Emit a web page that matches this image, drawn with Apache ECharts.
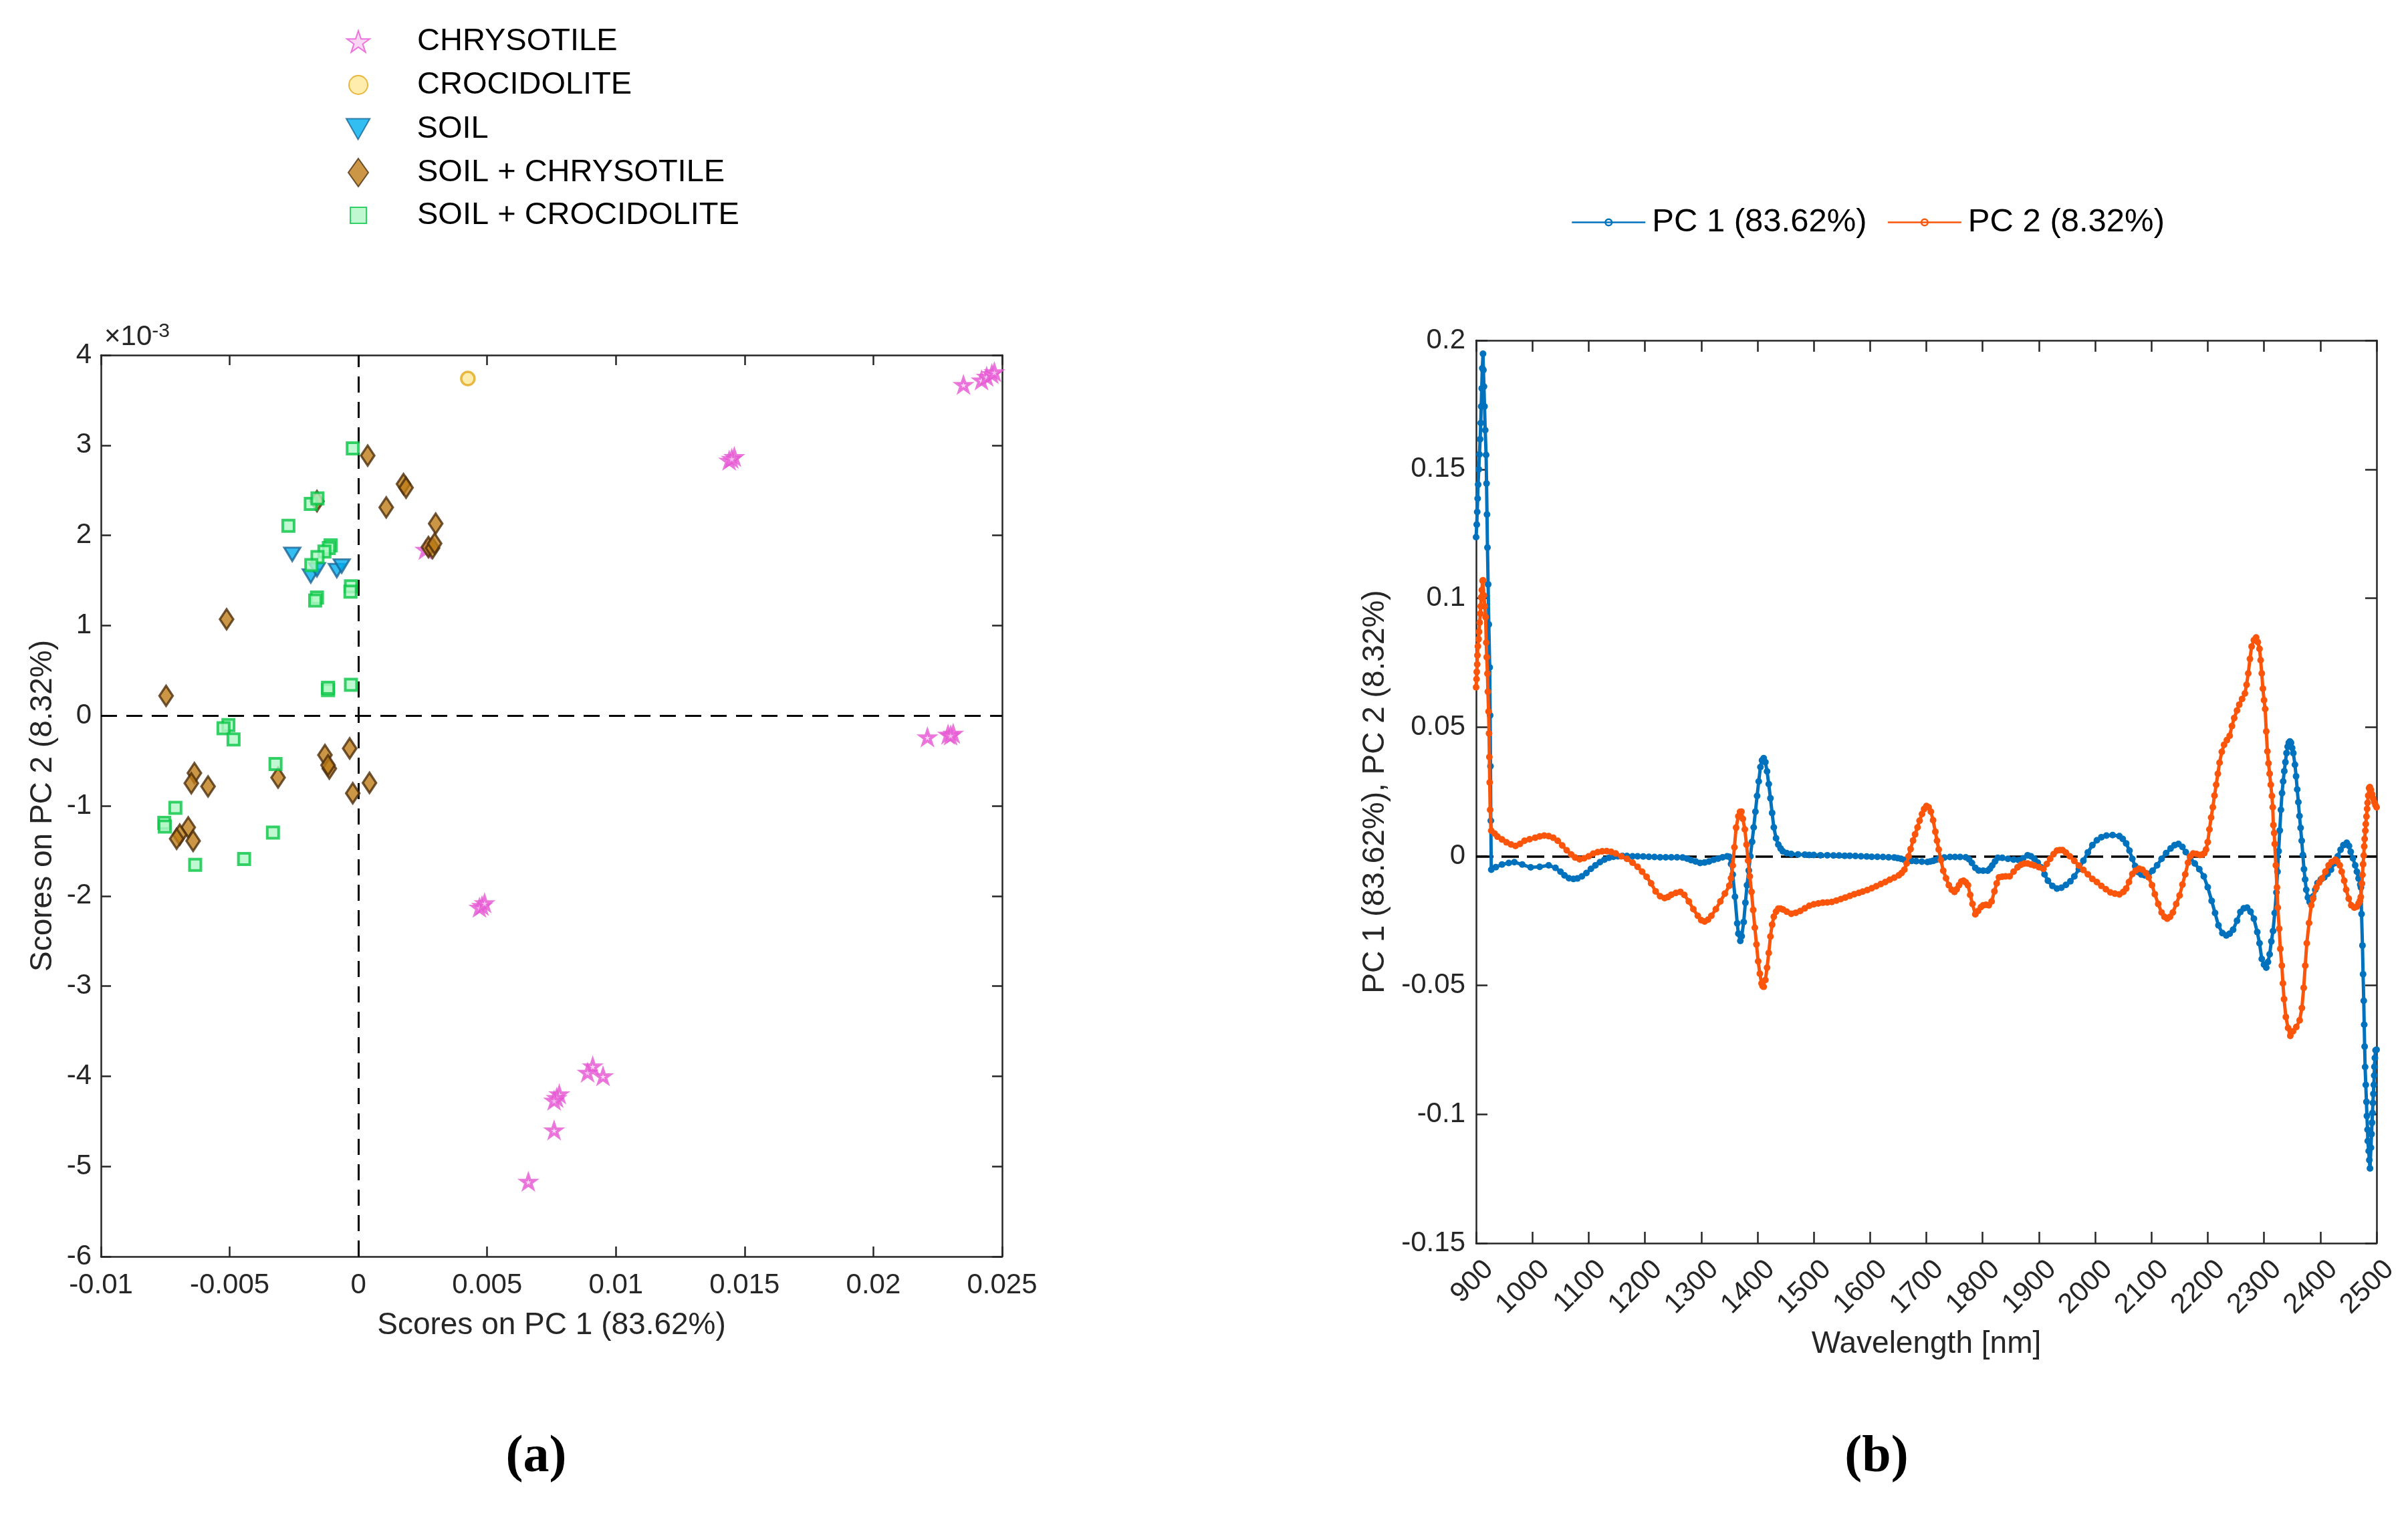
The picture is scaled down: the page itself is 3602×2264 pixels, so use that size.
<!DOCTYPE html>
<html>
<head>
<meta charset="utf-8">
<script src="https://cdn.jsdelivr.net/npm/echarts@6/dist/echarts.min.js"></script>
<style>
html,body{margin:0;padding:0;background:#fff;}
#main{width:3602px;height:2264px;}
</style>
</head>
<body>
<div id="main"></div>
<script>
// ---------- (a) PCA scores (PC1, PC2 in units of 1e-3) ----------
const groupNames = ['CHRYSOTILE', 'CROCIDOLITE', 'SOIL', 'SOIL + CHRYSOTILE', 'SOIL + CROCIDOLITE'];

const chrysotilePC1 = [0.0235, 0.0242, 0.0244, 0.0246, 0.0247, 0.0144, 0.0146, 0.0145, 0.0026, 0.0221, 0.0229, 0.0231, 0.0230, 0.0048, 0.0047, 0.0049, 0.0091, 0.0089, 0.0095, 0.0078, 0.0077, 0.0076, 0.0076, 0.0066];
const chrysotilePC2 = [3.67, 3.72, 3.76, 3.79, 3.81, 2.83, 2.87, 2.85, 1.84, -0.24, -0.21, -0.20, -0.22, -2.11, -2.13, -2.08, -3.89, -3.96, -4.00, -4.20, -4.24, -4.27, -4.60, -5.17];

const crocidolitePC1 = [0.00425];
const crocidolitePC2 = [3.74];

const soilPC1 = [-0.00257, -0.00185, -0.00161, -0.00084, -0.00065];
const soilPC2 = [1.79, 1.55, 1.62, 1.61, 1.66];

const soilChrysPC1 = [0.00036, 0.00175, 0.00185, 0.00108, 0.0030, 0.00272, 0.00288, 0.00296, -0.00161, -0.00512, -0.00747, -0.0013, -0.00113, -0.00118, -0.00034, -0.00022, 0.00043, -0.00637, -0.00649, -0.00584, -0.00312, -0.00661, -0.00694, -0.00706, -0.00642];
const soilChrysPC2 = [2.886, 2.57, 2.53, 2.31, 2.13, 1.87, 1.86, 1.91, 2.38, 1.07, 0.22, -0.437, -0.586, -0.55, -0.363, -0.86, -0.745, -0.636, -0.75, -0.785, -0.686, -1.24, -1.32, -1.366, -1.39];

const soilCrocPC1 = [-0.00022, -0.00185, -0.00159, -0.00272, -0.00108, -0.00115, -0.00132, -0.00159, -0.00183, -0.00029, -0.00031, -0.00161, -0.00168, -0.00118, -0.00118, -0.00029, -0.00505, -0.00524, -0.00485, -0.00322, -0.00711, -0.00754, -0.00752, -0.00332, -0.00444, -0.00634];
const soilCrocPC2 = [2.966, 2.35, 2.41, 2.106, 1.89, 1.86, 1.82, 1.76, 1.67, 1.436, 1.376, 1.31, 1.277, 0.283, 0.31, 0.343, -0.104, -0.139, -0.263, -0.536, -1.023, -1.19, -1.23, -1.297, -1.59, -1.654];

// ---------- (b) loadings: [wavelength nm, loading] ----------
const loadingNames = ['PC 1 (83.62%)', 'PC 2 (8.32%)'];

const pc1Loadings = [
[900,0.1237],[901.2,0.1286],[902,0.1335],[902.8,0.1387],[903.6,0.1441],[904.8,0.150],[906,0.1558],[907.2,0.1617],[908.3,0.168],[909,0.1744],[910,0.1814],[911,0.1892],[912.3,0.1948],[913,0.1885],[914,0.1821],[915,0.1744],[916.2,0.1652],[917.8,0.1556],[918.6,0.1445],[919.4,0.1325],[920.2,0.1197],[921.4,0.1054],[922.6,0.0899],[924.2,0.0732],[925,0.0546],[925.6,0.0349],[926.2,0.0138],[927,-0.0052],
[935,-0.0042],[946,-0.0032],[958,-0.0026],[968,-0.0023],[982,-0.0032],[997,-0.0043],[1013,-0.0041],[1029,-0.0035],[1041,-0.0045],[1050,-0.006],[1057,-0.0074],[1065,-0.0085],[1073,-0.0088],[1080,-0.0086],[1088,-0.0078],[1096,-0.0065],[1104,-0.0049],[1112,-0.0035],[1120,-0.0023],[1128,-0.0013],[1136,-0.0006],[1144,-0.0002],[1152,0],[1160,0.0001],[1168,0.0001],[1178,0],[1187,0],[1197,-0.0001],[1207,-0.0002],[1217,-0.0003],[1227,-0.0004],[1237,-0.0004],[1247,-0.0004],[1257,-0.0004],[1267,-0.0005],[1275,-0.0009],[1282,-0.0015],[1290,-0.002],[1298,-0.0026],[1306,-0.0024],[1314,-0.002],[1322,-0.0014],[1330,-0.0009],[1338,-0.0004],[1346,0],[1350,-0.0002],[1353,-0.003],[1356,-0.0071],[1360,-0.0157],[1364,-0.026],[1366,-0.03],[1369.5,-0.0328],[1372,-0.031],[1375.5,-0.0255],[1378.5,-0.018],[1381.4,-0.0112],[1384.5,-0.0055],[1387.4,0],[1390.4,0.0056],[1393.3,0.0112],[1396.3,0.0173],[1399.3,0.0234],[1402.2,0.029],[1405.2,0.0346],[1408,0.0372],[1411,0.038],[1414,0.0365],[1417,0.0329],[1420,0.028],[1423,0.0225],[1426,0.0168],[1429,0.0112],[1433,0.007],[1437,0.0045],[1441,0.003],[1445,0.0019],[1452,0.0012],[1460,0.0009],[1472,0.0007],[1484,0.0006],[1492,0.0005],[1500,0.0005],[1512,0.0004],[1524,0.0004],[1535,0.0003],[1545,0.0003],[1555,0.0002],[1564,0.0002],[1574,0.0001],[1584,0],[1594,-0.0001],[1603,-0.0002],[1613,-0.0002],[1623,-0.0003],[1633,-0.0004],[1643,-0.0005],[1649,-0.0007],[1655,-0.001],[1661,-0.0014],[1667,-0.0017],[1674,-0.0018],[1682,-0.0019],[1692,-0.0021],[1702,-0.0022],[1707,-0.002],[1712,-0.0018],[1717,-0.0014],[1722,-0.001],[1732,-0.0005],[1742,-0.0003],[1751,-0.0003],[1760,-0.0003],[1770,-0.0004],[1776,-0.0012],[1781,-0.0026],[1787,-0.0045],[1793,-0.0055],[1801,-0.0056],[1809,-0.0056],[1813,-0.0048],[1817,-0.0036],[1822,-0.002],[1827,-0.0006],[1835,-0.0006],[1845,-0.001],[1855,-0.0013],[1864,-0.0015],[1872,-0.0008],[1880,0.0004],[1886,0],[1892,-0.001],[1898,-0.0025],[1904,-0.0043],[1910,-0.007],[1916,-0.0095],[1924,-0.0115],[1932,-0.0125],[1940,-0.0122],[1948,-0.0111],[1956,-0.0097],[1963,-0.0078],[1971,-0.005],[1979,-0.0017],[1987,0.0015],[1995,0.0043],[2003,0.0062],[2011,0.0074],[2020,0.008],[2031,0.0082],[2043,0.0078],[2049,0.0067],[2055,0.005],[2061,0.0022],[2066,-0.001],[2071,-0.0038],[2076,-0.0061],[2082,-0.0071],[2088,-0.0074],[2095,-0.0068],[2102,-0.0056],[2110,-0.0035],[2118,-0.001],[2126,0.0012],[2134,0.003],[2141,0.0043],[2148,0.0048],[2155,0.0036],[2161,0.0016],[2169,-0.0006],[2177,-0.0028],[2185,-0.005],[2193,-0.0078],[2200,-0.012],[2207,-0.0173],[2213,-0.022],[2219,-0.0268],[2226,-0.0298],[2233,-0.0307],[2239,-0.03],[2245,-0.0285],[2252,-0.025],[2258,-0.0216],[2264,-0.0202],[2270,-0.0199],[2276,-0.0215],[2282,-0.0242],[2288,-0.0294],[2292,-0.0337],[2296,-0.0398],[2300,-0.042],[2304,-0.0432],[2307,-0.041],[2310,-0.038],[2313,-0.033],[2316,-0.029],[2319,-0.022],[2322,-0.014],[2324,-0.006],[2326,0.002],[2328,0.01],[2330,0.018],[2332,0.0245],[2334,0.029],[2336,0.033],[2338,0.0365],[2340,0.04],[2342,0.0425],[2344,0.044],[2346,0.0445],[2348,0.044],[2350,0.042],[2352,0.04],[2355,0.0355],[2357,0.031],[2359,0.0259],[2361,0.021],[2363,0.0156],[2365,0.011],[2367,0.006],[2369,0.0005],[2371,-0.005],[2373,-0.009],[2375,-0.013],[2378,-0.016],[2381,-0.0177],[2384,-0.0172],[2387,-0.0156],[2391,-0.013],[2395,-0.0104],[2401,-0.009],[2407,-0.0082],[2413,-0.0068],[2419,-0.0052],[2425,-0.0027],[2431,0],[2436,0.0025],[2441,0.0043],[2447,0.0052],[2451,0.004],[2454,0.0017],[2458,-0.0008],[2462,-0.0035],[2465,-0.006],[2468,-0.0086],[2471,-0.011],[2472.2,-0.0121],[2473.3,-0.0224],[2474.9,-0.0346],[2476,-0.0457],[2477.2,-0.056],[2478,-0.0653],[2478.8,-0.0738],[2479.6,-0.0817],[2480.8,-0.0886],[2482,-0.0952],[2482.8,-0.1007],[2484,-0.106],[2484.4,-0.1104],[2486,-0.1143],[2487.1,-0.1178],[2488.3,-0.121],[2490,-0.113],[2491.1,-0.1077],[2491.9,-0.1033],[2492.7,-0.0995],[2493.5,-0.0956],[2494.3,-0.0921],[2495.1,-0.0886],[2495.8,-0.085],[2496.2,-0.0816],[2497,-0.0782],[2498.2,-0.0752],[2500,-0.075]
];

const pc2Loadings = [
[900,0.0655],[900.8,0.0687],[901.2,0.0715],[902,0.0744],[902.4,0.0779],[903.2,0.0814],[904.4,0.0842],[905.2,0.087],[906.4,0.0906],[907.5,0.0941],[908.3,0.0969],[909,0.1004],[910.3,0.1032],[911.5,0.1068],[912.3,0.107],[914,0.1011],[915.4,0.0969],[916.9,0.0927],[918.1,0.0828],[918.9,0.0772],[920.2,0.0708],[921,0.0638],[922.2,0.0561],[923,0.0476],[923.6,0.0385],[924.2,0.0286],[925,0.018],[927,0.0099],
[933,0.0088],[938,0.0076],[946,0.0065],[954,0.0054],[962,0.0046],[970,0.004],[978,0.0048],[986,0.006],[995,0.0066],[1005,0.0072],[1013,0.0077],[1021,0.008],[1029,0.0078],[1037,0.0072],[1045,0.006],[1053,0.0042],[1061,0.0023],[1069,0.0007],[1076,-0.0005],[1084,-0.0012],[1092,-0.0008],[1100,0],[1108,0.001],[1116,0.0016],[1124,0.0019],[1132,0.002],[1140,0.0017],[1148,0.0011],[1158,0],[1168,-0.001],[1178,-0.0025],[1187,-0.0041],[1195,-0.006],[1203,-0.008],[1211,-0.0105],[1219,-0.0136],[1227,-0.0155],[1235,-0.0162],[1241,-0.0158],[1247,-0.0149],[1255,-0.0142],[1263,-0.0138],[1270,-0.015],[1278,-0.0175],[1286,-0.0205],[1294,-0.0231],[1300,-0.0248],[1306,-0.0253],[1312,-0.0246],[1318,-0.0231],[1326,-0.0205],[1334,-0.0175],[1342,-0.0145],[1350,-0.0114],[1353,-0.0085],[1356,-0.0036],[1359,0.0035],[1362,0.0111],[1366,0.0155],[1369,0.0172],[1371.5,0.0173],[1374,0.0145],[1377.5,0.0104],[1380.5,0.0045],[1383.4,-0.0017],[1386.4,-0.0078],[1389.4,-0.0138],[1392.3,-0.0208],[1395.3,-0.0277],[1398.2,-0.0342],[1401.2,-0.0407],[1404.2,-0.0455],[1407.2,-0.0493],[1409,-0.0503],[1411,-0.0506],[1414,-0.048],[1417,-0.0432],[1420,-0.0375],[1423,-0.0311],[1426,-0.0265],[1429,-0.0234],[1433,-0.0215],[1437,-0.0203],[1441,-0.0203],[1445,-0.0206],[1452,-0.0215],[1460,-0.0223],[1468,-0.0219],[1476,-0.0212],[1484,-0.0202],[1492,-0.0192],[1500,-0.0186],[1508,-0.0183],[1516,-0.018],[1524,-0.0179],[1532,-0.0177],[1540,-0.0172],[1548,-0.0166],[1556,-0.016],[1564,-0.0154],[1572,-0.0147],[1580,-0.0142],[1587,-0.0137],[1595,-0.0131],[1603,-0.0124],[1611,-0.0116],[1619,-0.0108],[1627,-0.01],[1635,-0.0091],[1643,-0.0083],[1651,-0.0074],[1656,-0.0065],[1661,-0.0052],[1665,-0.0028],[1668.5,0],[1672,0.0028],[1676.4,0.0061],[1680,0.0085],[1684.4,0.0112],[1688,0.0138],[1692.3,0.0164],[1696,0.0183],[1700.2,0.0195],[1704,0.019],[1708,0.0173],[1712,0.014],[1716,0.0095],[1719,0.006],[1722,0.0026],[1726,-0.0015],[1730,-0.0056],[1735,-0.0085],[1740,-0.0112],[1745,-0.013],[1750,-0.0138],[1754,-0.0128],[1758,-0.0112],[1762,-0.0098],[1766,-0.0095],[1770,-0.0101],[1774,-0.0112],[1778,-0.015],[1782,-0.0185],[1787,-0.0225],[1792,-0.0212],[1797,-0.0197],[1801,-0.019],[1806,-0.0188],[1811,-0.019],[1816,-0.0175],[1821,-0.0136],[1825,-0.0105],[1829,-0.0082],[1835,-0.0079],[1841,-0.0078],[1848,-0.0078],[1855,-0.006],[1862,-0.0043],[1868,-0.0033],[1874,-0.0028],[1880,-0.0028],[1886,-0.0032],[1892,-0.0036],[1900,-0.0042],[1908,-0.0049],[1914,-0.003],[1920,-0.001],[1926,0.0008],[1932,0.0022],[1937,0.0024],[1942,0.0024],[1948,0.0014],[1955,0],[1963,-0.0018],[1971,-0.0036],[1979,-0.0053],[1987,-0.007],[1995,-0.0088],[2003,-0.01],[2011,-0.0115],[2019,-0.0128],[2027,-0.014],[2035,-0.0145],[2043,-0.0148],[2050,-0.0138],[2055,-0.0125],[2060,-0.01],[2066,-0.0069],[2072,-0.0055],[2078,-0.0048],[2084,-0.0052],[2090,-0.0065],[2095,-0.0082],[2101,-0.0112],[2106,-0.0147],[2112,-0.0185],[2118,-0.0218],[2123,-0.0235],[2128,-0.0242],[2133,-0.0235],[2138,-0.0218],[2144,-0.0185],[2150,-0.0152],[2155,-0.011],[2160,-0.007],[2165,-0.0025],[2169,0],[2174,0.0011],[2180,0.0009],[2186,0.0005],[2190,0.0006],[2194,0.0012],[2197,0.0026],[2200,0.0055],[2203,0.0104],[2206,0.015],[2209,0.019],[2212,0.0235],[2215,0.0277],[2218,0.032],[2221,0.0363],[2225,0.0405],[2229,0.0432],[2234,0.045],[2239,0.0467],[2243,0.0505],[2247,0.0536],[2252,0.0565],[2256,0.0588],[2261,0.061],[2266,0.0631],[2269,0.0665],[2272,0.0709],[2275,0.0765],[2278,0.0813],[2282,0.0838],[2286,0.0848],[2289,0.083],[2292,0.0804],[2294,0.076],[2296,0.0709],[2298,0.065],[2300,0.0605],[2302,0.0571],[2304,0.0484],[2306,0.0407],[2308,0.036],[2310,0.032],[2312,0.0277],[2314,0.0234],[2315.5,0.019],[2316.6,0.0121],[2318,0.009],[2319,0.0048],[2321,-0.0035],[2323,-0.0121],[2324.5,-0.0199],[2327,-0.0281],[2329,-0.0359],[2331.7,-0.0424],[2333.6,-0.0493],[2335.6,-0.0554],[2338.8,-0.0623],[2342.8,-0.0666],[2346.7,-0.0696],[2351.5,-0.0679],[2357.4,-0.0662],[2363.3,-0.0636],[2367.3,-0.0588],[2370.5,-0.051],[2373.2,-0.0424],[2376,-0.0337],[2380,-0.0259],[2384,-0.019],[2387.1,-0.0164],[2393,-0.0121],[2398,-0.0102],[2403,-0.0086],[2409,-0.006],[2414.8,-0.0035],[2420,-0.0022],[2426.7,-0.0013],[2430,-0.002],[2434.6,-0.0035],[2438,-0.006],[2442.5,-0.0095],[2446,-0.013],[2450.5,-0.0164],[2455,-0.019],[2460.4,-0.0199],[2465,-0.0195],[2468,-0.0183],[2470.3,-0.0173],[2472,-0.0158],[2474,-0.0106],[2474.9,-0.0072],[2476,-0.0031],[2477.2,0.0003],[2478,0.0038],[2478.8,0.0067],[2480,0.0099],[2480.8,0.0125],[2482,0.0154],[2483.2,0.0184],[2484,0.0207],[2485.2,0.0235],[2486.7,0.0264],[2488,0.0268],[2490,0.0258],[2492,0.024],[2494,0.0224],[2496,0.021],[2498,0.0198],[2500,0.019]
];

// ---------- rendering ----------
const FONT = '"Liberation Sans", Arial, Helvetica, sans-serif';
const SERIF = '"Liberation Serif", "Times New Roman", serif';
const AX = '#262626';
const zip = (a, b) => a.map((v, i) => [v, b[i]]);
const clean = d => v => String(parseFloat(v.toFixed(d)));

const starPath = 'path://M50,0 L61.8,35.4 L99,35.4 L69,57.3 L80.9,92.7 L50,70.8 L19.1,92.7 L31,57.3 L1,35.4 L38.2,35.4 Z';
const triDownPath = 'path://M0,0 L100,0 L50,88 Z';

function boxAxis(base, extra) { return Object.assign({}, base, extra); }

const axisLineStyle = { show: true, onZero: false, lineStyle: { color: AX, width: 2.5 } };
const tickStyle = len => ({ show: true, inside: true, length: len, lineStyle: { color: AX, width: 2.5 } });
const labelStyle = { color: AX, fontSize: 42, fontFamily: FONT };
const nameStyle = { color: AX, fontSize: 46, fontFamily: FONT };

const xScore = { gridIndex: 0, type: 'value', min: -0.01, max: 0.025, interval: 0.005, splitLine: { show: false }, axisLine: axisLineStyle, axisTick: tickStyle(15) };
const yScore = { gridIndex: 0, type: 'value', min: -6, max: 4, interval: 1, splitLine: { show: false }, axisLine: axisLineStyle, axisTick: tickStyle(15) };
const xWave = { gridIndex: 1, type: 'value', min: 900, max: 2500, interval: 100, splitLine: { show: false }, axisLine: axisLineStyle, axisTick: tickStyle(17) };
const yLoad = { gridIndex: 1, type: 'value', min: -0.15, max: 0.2, interval: 0.05, splitLine: { show: false }, axisLine: axisLineStyle, axisTick: tickStyle(17) };

const scatterStyles = [
  { symbol: starPath, symbolSize: [21, 20], itemStyle: { color: '#F9CDF2', borderColor: '#E658D3', borderWidth: 4 } },
  { symbol: 'circle', symbolSize: 20, itemStyle: { color: '#FFE89A', borderColor: '#E2A81A', borderWidth: 3.5 } },
  { symbol: triDownPath, symbolSize: [24, 20], itemStyle: { color: '#00AEEF', borderColor: '#1A6596', borderWidth: 3 } },
  { symbol: 'diamond', symbolSize: [20, 30], itemStyle: { color: '#BE7D18', borderColor: '#4E2E0C', borderWidth: 3.5 } },
  { symbol: 'rect', symbolSize: [17, 17], itemStyle: { color: '#B0F7C6', borderColor: '#06C544', borderWidth: 4 } }
];
// legend marker box [w, h] and row centre (px) of each left-hand legend entry
const legendIcon = [[34, 33], [28, 30], [36, 31], [30, 42], [24, 24]];
const legendRowY = [57, 122, 188, 253, 317];

const scoreData = [
  zip(chrysotilePC1, chrysotilePC2),
  zip(crocidolitePC1, crocidolitePC2),
  zip(soilPC1, soilPC2),
  zip(soilChrysPC1, soilChrysPC2),
  zip(soilCrocPC1, soilCrocPC2)
];

const scatterSeries = groupNames.map((name, i) => Object.assign({
  name: name, type: 'scatter', xAxisIndex: 0, yAxisIndex: 0,
  data: scoreData[i], symbolKeepAspect: false, z: 3
}, scatterStyles[i]));

scatterSeries[0].markLine = {
  silent: true, symbol: ['none', 'none'], z: 1, label: { show: false },
  lineStyle: { color: '#000', type: [24, 14], width: 3 },
  data: [{ xAxis: 0 }, { yAxis: 0 }]
};

const lineColors = ['#0072BD', '#FA550A'];
const lineSeries = [pc1Loadings, pc2Loadings].map((d, i) => ({
  name: loadingNames[i], type: 'line', xAxisIndex: 2, yAxisIndex: 2, data: d,
  showSymbol: true, symbol: 'circle', symbolSize: 10, z: 2 + i,
  lineStyle: { color: lineColors[i], width: 5 },
  itemStyle: { color: lineColors[i], borderColor: lineColors[i], borderWidth: 0 }
}));
lineSeries[0].markLine = {
  silent: true, symbol: ['none', 'none'], z: 1, label: { show: false },
  lineStyle: { color: '#000', type: [26, 12], width: 3.5 },
  data: [{ yAxis: 0 }]
};

const leftLegends = groupNames.map((name, i) => {
  const w = legendIcon[i][0], h = legendIcon[i][1];
  const left = 530 - w / 2;
  return {
    data: [name], orient: 'vertical', left: left, top: legendRowY[i] - Math.max(h, 47) / 2,
    itemWidth: w, itemHeight: h,
    textStyle: { color: '#000', fontSize: 47, fontFamily: FONT, padding: [0, 0, 0, 618 - (left + w + 5)] }
  };
});

const option = {
  animation: false,
  backgroundColor: '#fff',
  title: ['a', 'b'].map((t, i) => ({
    text: '{p|(}{b|' + t + '}{p|)}', left: i === 0 ? 797 : 2802, top: 2136, textAlign: 'center',
    textStyle: { rich: { p: { fontFamily: SERIF, fontSize: 78, color: '#000' }, b: { fontFamily: SERIF, fontSize: 78, fontWeight: 'bold', color: '#000' } } }
  })),
  legend: leftLegends.concat([
    { data: loadingNames, orient: 'horizontal', left: 2345, top: 303, itemWidth: 110, itemHeight: 12, itemGap: 30,
      lineStyle: { width: 2.5 },
      itemStyle: { color: 'rgba(255,255,255,0)', borderWidth: 2.5 },
      textStyle: { color: '#000', fontSize: 49, fontFamily: FONT, padding: [0, 0, 0, 5] } }
  ]),
  grid: [
    { left: 151, top: 531, width: 1348, height: 1348 },
    { left: 2208, top: 509, width: 1347, height: 1350 }
  ],
  xAxis: [
    boxAxis(xScore, { position: 'bottom', axisLabel: Object.assign({ margin: 22, formatter: clean(4) }, labelStyle),
      name: 'Scores on PC 1 (83.62%)', nameLocation: 'middle', nameGap: 80, nameTextStyle: nameStyle }),
    boxAxis(xScore, { position: 'top', axisLabel: { show: false },
      name: '{b|×10}{s|-3}', nameLocation: 'start', nameGap: -5,
      nameTextStyle: { align: 'left', verticalAlign: 'bottom', padding: [0, 0, 6, 0],
        rich: { b: { fontSize: 42, color: AX, fontFamily: FONT, lineHeight: 44, verticalAlign: 'bottom' },
                s: { fontSize: 30, color: AX, fontFamily: FONT, lineHeight: 30, verticalAlign: 'top' } } } }),
    boxAxis(xWave, { position: 'bottom',
      axisLabel: Object.assign({ margin: 52, rotate: 45, padding: [0, -27, 0, 0], formatter: v => String(Math.round(v)) }, labelStyle),
      name: 'Wavelength [nm]', nameLocation: 'middle', nameGap: 128, nameTextStyle: nameStyle }),
    boxAxis(xWave, { position: 'top', axisLabel: { show: false } })
  ],
  yAxis: [
    boxAxis(yScore, { position: 'left', axisLabel: Object.assign({ margin: 14, formatter: clean(0) }, labelStyle),
      name: 'Scores on PC 2 (8.32%)', nameLocation: 'middle', nameGap: 64, nameTextStyle: nameStyle }),
    boxAxis(yScore, { position: 'right', axisLabel: { show: false } }),
    boxAxis(yLoad, { position: 'left', axisLabel: Object.assign({ margin: 16, formatter: clean(2) }, labelStyle),
      name: 'PC 1 (83.62%), PC 2 (8.32%)', nameLocation: 'middle', nameGap: 128, nameTextStyle: nameStyle }),
    boxAxis(yLoad, { position: 'right', axisLabel: { show: false } })
  ],
  series: scatterSeries.concat(lineSeries)
};

const chart = echarts.init(document.getElementById('main'), null, { renderer: 'canvas', width: 3602, height: 2264 });
chart.setOption(option);
</script>
</body>
</html>
